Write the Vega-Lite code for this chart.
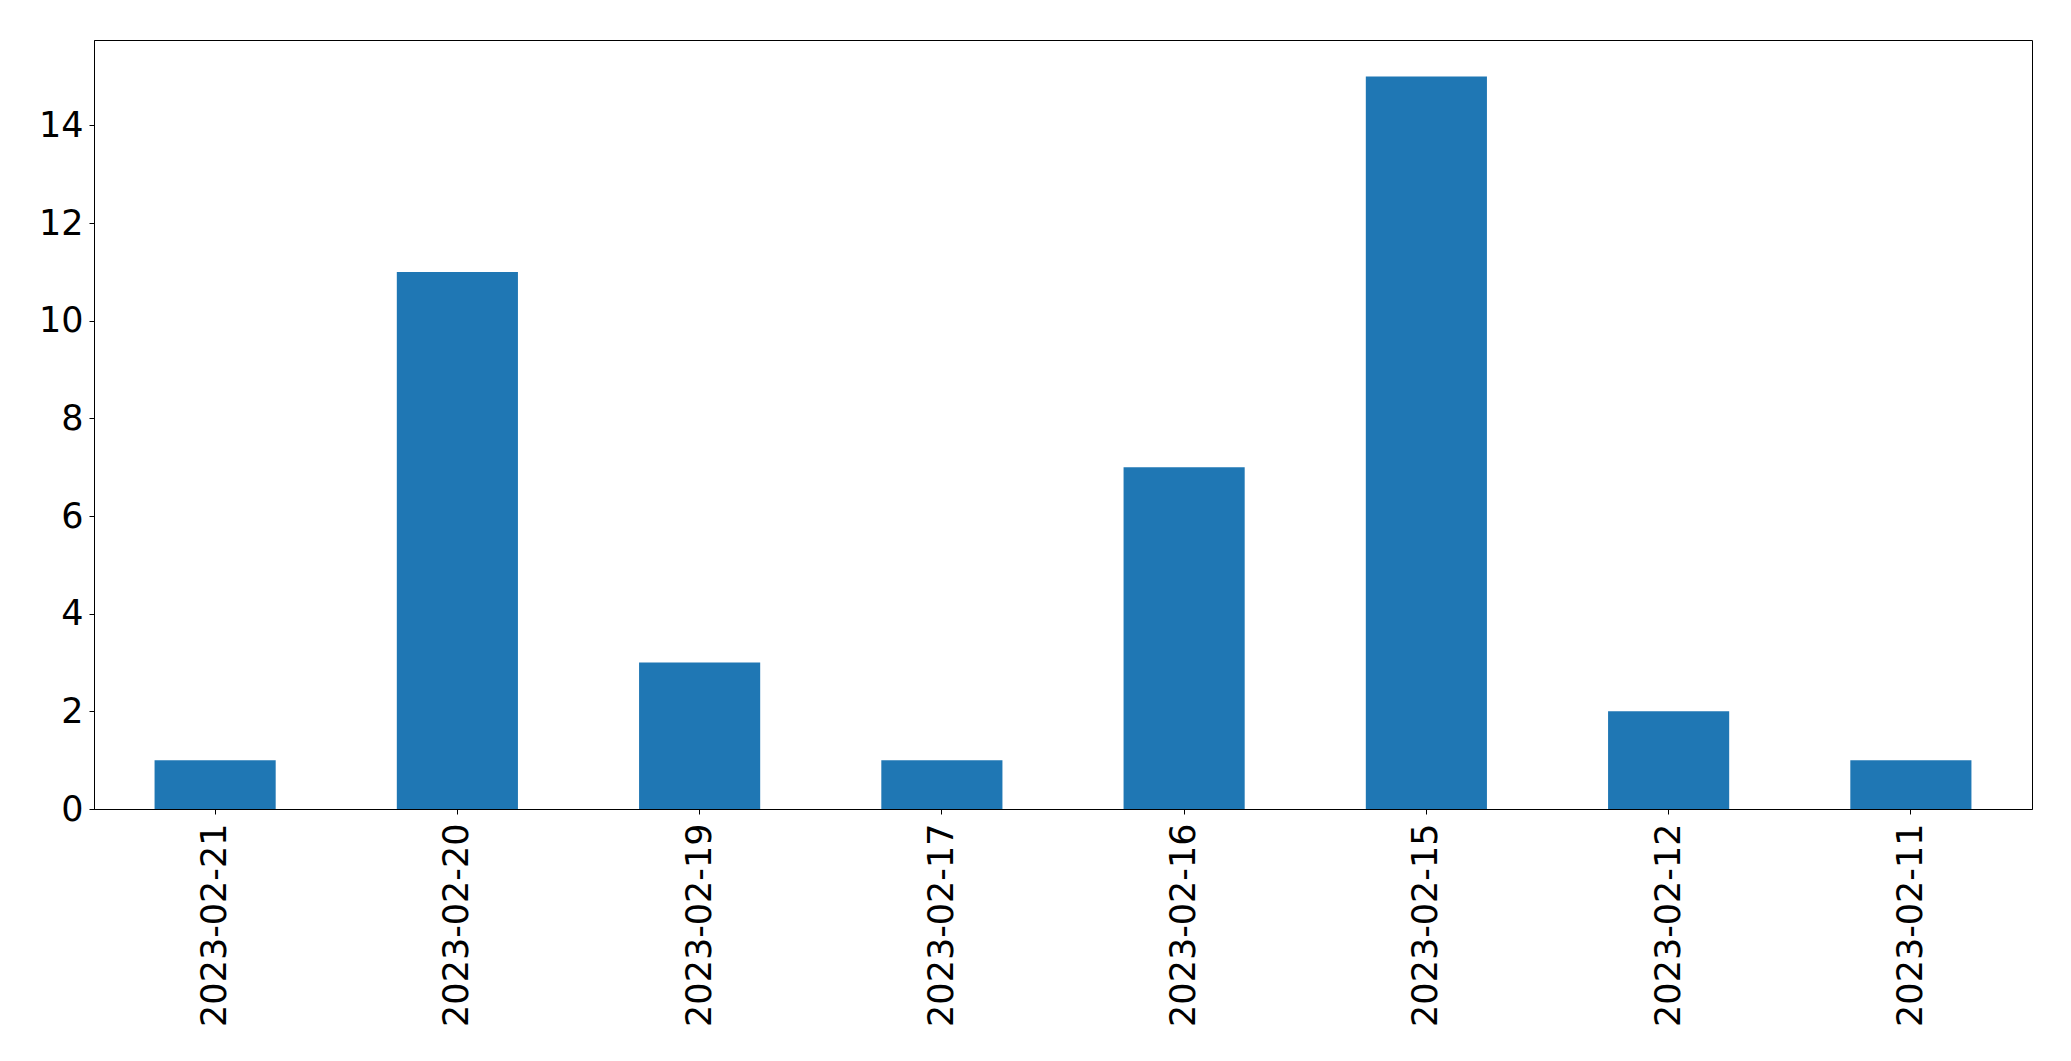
{
  "$schema": "https://vega.github.io/schema/vega-lite/v6.json",
  "autosize": {"type": "none"},
  "padding": {"left": 94, "top": 40, "right": 39, "bottom": 252},
  "width": 1938,
  "height": 769,
  "background": "white",
  "data": {
    "values": [
      {"date": "2023-02-21", "count": 1},
      {"date": "2023-02-20", "count": 11},
      {"date": "2023-02-19", "count": 3},
      {"date": "2023-02-17", "count": 1},
      {"date": "2023-02-16", "count": 7},
      {"date": "2023-02-15", "count": 15},
      {"date": "2023-02-12", "count": 2},
      {"date": "2023-02-11", "count": 1}
    ]
  },
  "mark": {"type": "bar", "color": "#1f77b4"},
  "encoding": {
    "x": {
      "field": "date",
      "type": "nominal",
      "sort": null,
      "scale": {"paddingInner": 0.5, "paddingOuter": 0.25},
      "axis": {
        "title": null,
        "labelAngle": -90,
        "labelFont": "DejaVu Sans",
        "labelFontSize": 35,
        "labelColor": "black",
        "labelPadding": 9,
        "labelLimit": 0,
        "tickColor": "black",
        "tickSize": 5,
        "domainColor": "black",
        "grid": false
      }
    },
    "y": {
      "field": "count",
      "type": "quantitative",
      "scale": {"domain": [0, 15.75], "nice": false, "zero": true},
      "axis": {
        "title": null,
        "values": [0, 2, 4, 6, 8, 10, 12, 14],
        "labelFont": "DejaVu Sans",
        "labelFontSize": 35,
        "labelColor": "black",
        "labelPadding": 6,
        "tickColor": "black",
        "tickSize": 5,
        "domainColor": "black",
        "grid": false
      }
    }
  },
  "config": {
    "view": {"stroke": "black", "strokeWidth": 1}
  }
}
